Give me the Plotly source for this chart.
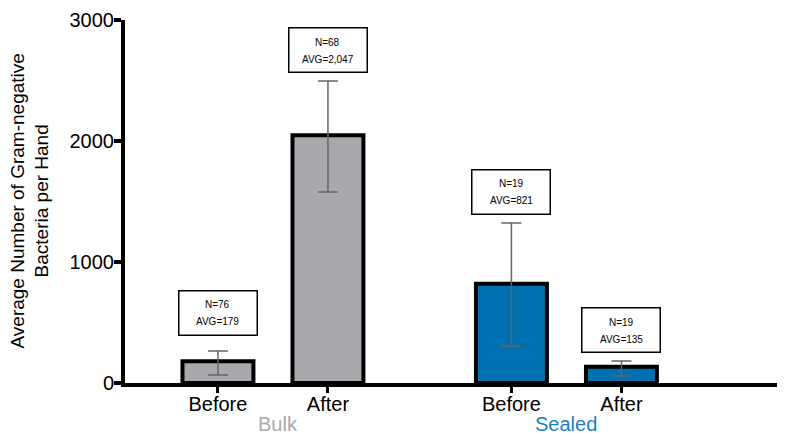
import plotly.graph_objects as go

# ---- data ----
groups = ["Bulk", "Sealed"]
conditions = ["Before", "After"]
means = [179, 2047, 821, 135]
counts = [76, 68, 19, 19]
err_plus = [85, 449, 501, 47]
err_minus = [113, 468, 515, 77]
yticks = [0, 1000, 2000, 3000]

# ---- layout / style ----
group_gap = 2.668
bar_colors = ["#a7a9ac", "#a7a9ac", "#0071b0", "#0071b0"]
group_label_colors = ["#a9a9a9", "#1a7fc1"]
group_label_xshift = [5, 0]
label_gap = [315, 256, 257, 256]
FONT = "Liberation Sans, Arial, sans-serif"

xpos = []
xtext = []
for gi, g in enumerate(groups):
    for ci, c in enumerate(conditions):
        xpos.append(gi * group_gap + ci)
        xtext.append(c)

fig = go.Figure()
fig.add_trace(go.Bar(
    x=xpos, y=means, width=0.645,
    marker=dict(color=bar_colors, line=dict(color="black", width=4)),
    error_y=dict(type="data", symmetric=False, array=err_plus, arrayminus=err_minus,
                 color="#666666", thickness=1.5, width=10),
    showlegend=False, hoverinfo="skip",
))

annotations = []
for i in range(len(means)):
    yc = means[i] + err_plus[i] + label_gap[i]
    annotations.append(dict(x=xpos[i], y=yc, xref="x", yref="y", text=" ",
                            showarrow=False, width=75, height=41,
                            bordercolor="black", borderwidth=1.5, bgcolor="white",
                            font=dict(family=FONT, size=10)))
    annotations.append(dict(x=xpos[i], y=yc, xref="x", yref="y", text=f"N={counts[i]}",
                            showarrow=False, yshift=8, font=dict(family=FONT, size=10, color="black")))
    annotations.append(dict(x=xpos[i], y=yc, xref="x", yref="y", text=f"AVG={means[i]:,}",
                            showarrow=False, yshift=-9, font=dict(family=FONT, size=10, color="black")))

for gi, g in enumerate(groups):
    annotations.append(dict(x=gi * group_gap + 0.5, y=0, xref="x", yref="paper", text=g,
                            showarrow=False, yanchor="top", yshift=-28,
                            xshift=group_label_xshift[gi],
                            font=dict(family=FONT, size=20, color=group_label_colors[gi])))

annotations.append(dict(x=0, y=0.5, xref="paper", yref="paper",
                        text="Average Number of Gram-negative<br>Bacteria per Hand",
                        showarrow=False, textangle=-90, xanchor="center", yanchor="middle",
                        xshift=-96, font=dict(family=FONT, size=19, color="black")))

fig.update_layout(
    width=777, height=425,
    margin=dict(l=117, r=0, t=12, b=50),
    paper_bgcolor="white", plot_bgcolor="white",
    font=dict(family=FONT, color="black"),
    annotations=annotations,
    xaxis=dict(range=[-0.845, 5.155], tickvals=xpos, ticktext=xtext,
               showline=True, linecolor="black", linewidth=4,
               ticks="outside", ticklen=6, tickwidth=3, tickcolor="black",
               ticklabelstandoff=-6,
               tickfont=dict(family=FONT, size=20, color="black"),
               showgrid=False, zeroline=False, fixedrange=True),
    yaxis=dict(range=[0, 3000], tickvals=yticks,
               showline=True, linecolor="black", linewidth=4,
               ticks="outside", ticklen=7, tickwidth=4, tickcolor="black",
               ticklabelstandoff=-4,
               tickfont=dict(family=FONT, size=20, color="black"),
               showgrid=False, zeroline=False, fixedrange=True),
)

fig.write_html("out.html")
